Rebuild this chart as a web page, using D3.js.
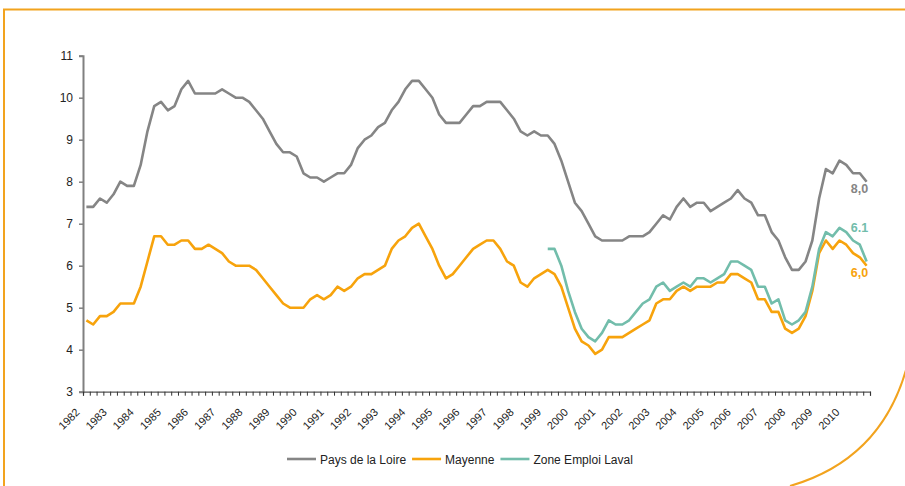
<!DOCTYPE html>
<html>
<head>
<meta charset="utf-8">
<script src="https://cdn.jsdelivr.net/npm/d3@7"></script>
<style>
  body { margin: 0; background: #fff; }
  svg { display: block; font-family: "Liberation Sans", Arial, sans-serif; }
</style>
</head>
<body>
<div id="chart"></div>
<script>

// years shown on the axis, one category per quarter
var years = [1982, 1983, 1984, 1985, 1986, 1987, 1988, 1989, 1990, 1991, 1992, 1993, 1994, 1995,
  1996, 1997, 1998, 1999, 2000, 2001, 2002, 2003, 2004, 2005, 2006, 2007, 2008, 2009, 2010];

var quarters = [];
years.forEach(function(y) {
  for (var q = 1; q <= 4; q++) quarters.push(y + "-T" + q);
});

var paysLoire = [7.4,7.4,7.6,7.5,7.7,8.0,7.9,7.9,8.4,9.2,
  9.8,9.9,9.7,9.8,10.2,10.4,10.1,10.1,10.1,10.1,
  10.2,10.1,10.0,10.0,9.9,9.7,9.5,9.2,8.9,8.7,
  8.7,8.6,8.2,8.1,8.1,8.0,8.1,8.2,8.2,8.4,
  8.8,9.0,9.1,9.3,9.4,9.7,9.9,10.2,10.4,10.4,
  10.2,10.0,9.6,9.4,9.4,9.4,9.6,9.8,9.8,9.9,
  9.9,9.9,9.7,9.5,9.2,9.1,9.2,9.1,9.1,8.9,
  8.5,8.0,7.5,7.3,7.0,6.7,6.6,6.6,6.6,6.6,
  6.7,6.7,6.7,6.8,7.0,7.2,7.1,7.4,7.6,7.4,
  7.5,7.5,7.3,7.4,7.5,7.6,7.8,7.6,7.5,7.2,
  7.2,6.8,6.6,6.2,5.9,5.9,6.1,6.6,7.6,8.3,
  8.2,8.5,8.4,8.2,8.2,8.0];

var mayenne = [4.7,4.6,4.8,4.8,4.9,5.1,5.1,5.1,5.5,6.1,
  6.7,6.7,6.5,6.5,6.6,6.6,6.4,6.4,6.5,6.4,
  6.3,6.1,6.0,6.0,6.0,5.9,5.7,5.5,5.3,5.1,
  5.0,5.0,5.0,5.2,5.3,5.2,5.3,5.5,5.4,5.5,
  5.7,5.8,5.8,5.9,6.0,6.4,6.6,6.7,6.9,7.0,
  6.7,6.4,6.0,5.7,5.8,6.0,6.2,6.4,6.5,6.6,
  6.6,6.4,6.1,6.0,5.6,5.5,5.7,5.8,5.9,5.8,
  5.5,5.0,4.5,4.2,4.1,3.9,4.0,4.3,4.3,4.3,
  4.4,4.5,4.6,4.7,5.1,5.2,5.2,5.4,5.5,5.4,
  5.5,5.5,5.5,5.6,5.6,5.8,5.8,5.7,5.6,5.2,
  5.2,4.9,4.9,4.5,4.4,4.5,4.8,5.4,6.3,6.6,
  6.4,6.6,6.5,6.3,6.2,6.0];

// Zone Emploi Laval only starts in 1999
var lavalStart = "1999-T1";
var laval = [6.4,6.4,6.0,5.4,4.9,4.5,4.3,4.2,4.4,4.7,
  4.6,4.6,4.7,4.9,5.1,5.2,5.5,5.6,5.4,5.5,
  5.6,5.5,5.7,5.7,5.6,5.7,5.8,6.1,6.1,6.0,
  5.9,5.5,5.5,5.1,5.2,4.7,4.6,4.7,4.9,5.5,
  6.4,6.8,6.7,6.9,6.8,6.6,6.5,6.1];

var yTicks = [3, 4, 5, 6, 7, 8, 9, 10, 11];

var seriesNames = ["Pays de la Loire", "Mayenne", "Zone Emploi Laval"];
var endLabels = ["8,0", "6,0", "6.1"];
var colors = ["#858585", "#F7A30C", "#72BDAB"];

var width = 905, height = 486;

var svg = d3.select("#chart").append("svg")
  .attr("width", width)
  .attr("height", height);

// decorative frame
svg.append("path")
  .attr("d", "M4,486 L4,9.5 L905,9.5")
  .attr("fill", "none")
  .attr("stroke", "#F2A31E")
  .attr("stroke-width", 2);
svg.append("path")
  .attr("d", "M790,486 Q880,460 906,370")
  .attr("fill", "none")
  .attr("stroke", "#F2A31E")
  .attr("stroke-width", 2);

var x = d3.scaleLinear().domain([0, quarters.length]).range([83, 870]);
var y = d3.scaleLinear().domain([3, 11]).range([391.7, 55.7]);

function cx(i) { return x(i + 0.5); }

// axes
var yAxis = d3.axisLeft(y).tickValues(yTicks).tickSize(4).tickPadding(6).tickFormat(d3.format("d"));
var gy = svg.append("g").attr("transform", "translate(83,0)").call(yAxis);
gy.select(".domain").attr("stroke", "#808080").attr("stroke-width", 2);
gy.selectAll(".tick line").attr("stroke", "#808080").attr("stroke-width", 1.5);
gy.selectAll(".tick text").attr("font-size", 12).attr("fill", "#222")
  .attr("font-family", "Liberation Sans, Arial, sans-serif");

var xAxis = d3.axisBottom(x).tickValues(d3.range(quarters.length + 1)).tickSize(4).tickFormat("");
var gx = svg.append("g").attr("transform", "translate(0,391.7)").call(xAxis);
gx.select(".domain").attr("stroke", "#555").attr("stroke-width", 1.2);
gx.selectAll(".tick line").attr("stroke", "#333");

svg.append("g").selectAll("text")
  .data(years)
  .enter().append("text")
  .attr("transform", function(d, k) {
    return "translate(" + (cx(k * 4) - 6) + ",413) rotate(-45)";
  })
  .attr("text-anchor", "end")
  .attr("font-size", 11)
  .attr("fill", "#222")
  .text(function(d) { return d; });

// lines
var line = d3.line()
  .defined(function(d) { return d != null; })
  .x(function(d, i) { return cx(i); })
  .y(function(d) { return y(d); });

var startIdx = quarters.indexOf(lavalStart);
var lavalFull = quarters.map(function(q, i) {
  return i < startIdx ? null : laval[i - startIdx];
});

var allSeries = [paysLoire, mayenne, lavalFull];

// draw orange first, then teal, then gray on top (as in the picture)
[1, 2, 0].forEach(function(s) {
  svg.append("path")
    .datum(allSeries[s])
    .attr("fill", "none")
    .attr("stroke", colors[s])
    .attr("stroke-width", 2.6)
    .attr("stroke-linejoin", "round")
    .attr("d", line);
});

// end value labels
var last = quarters.length - 1;
var labelOffsets = [11.5, 11.5, -30];
allSeries.forEach(function(ser, s) {
  svg.append("text")
    .attr("x", cx(last) + 1.5)
    .attr("y", y(ser[last]) + labelOffsets[s])
    .attr("text-anchor", "end")
    .attr("font-size", 12.5)
    .attr("font-weight", "bold")
    .attr("fill", colors[s])
    .text(endLabels[s]);
});

// legend
var legend = svg.append("g").attr("transform", "translate(287,459)");
var offX = 0;
seriesNames.forEach(function(name, s) {
  legend.append("line")
    .attr("x1", offX).attr("x2", offX + 29)
    .attr("y1", 0).attr("y2", 0)
    .attr("stroke", colors[s])
    .attr("stroke-width", 2.6);
  var t = legend.append("text")
    .attr("x", offX + 33)
    .attr("y", 4.5)
    .attr("font-size", 12)
    .attr("fill", "#222")
    .text(name);
  offX += 33 + t.node().getComputedTextLength() + 6;
});

</script>
</body>
</html>
